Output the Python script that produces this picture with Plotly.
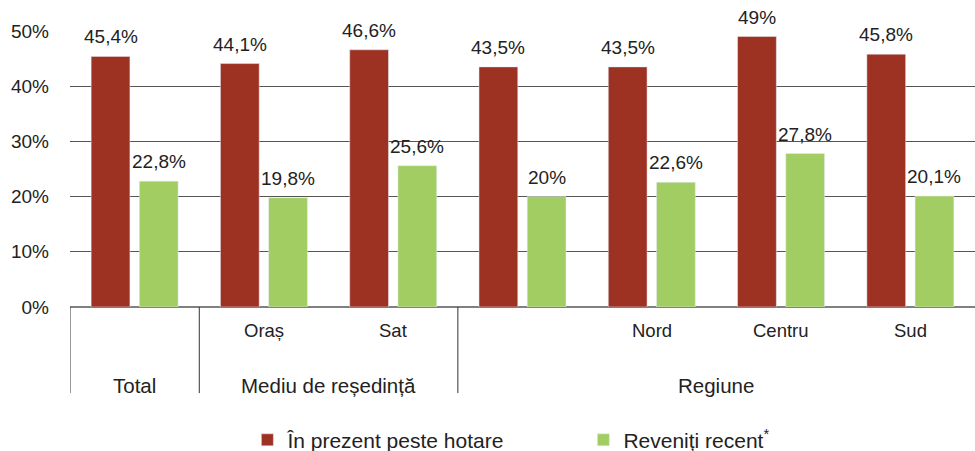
import plotly.graph_objects as go

# ---- data ----
groups = ["Total", "Mediu de reședință", "Regiune"]
group_spans = [(0, 0), (1, 2), (3, 6)]
categories = ["", "Oraș", "Sat", "", "Nord", "Centru", "Sud"]
abroad = [45.4, 44.1, 46.6, 43.5, 43.5, 49.0, 45.8]
returned = [22.8, 19.8, 25.6, 20.0, 22.6, 27.8, 20.1]
series_names = ["În prezent peste hotare", "Reveniți recent<sup>*</sup>"]
y_ticks = [0, 10, 20, 30, 40, 50]
y_tick_labels = [f"{t}%" for t in y_ticks]

RED = "#9d3122"
GREEN = "#a2cd62"
TXT = "#222222"
FONT = "Liberation Sans, Arial, Helvetica, sans-serif"

BARGAP = 0.254
BARGROUPGAP = 0.196

x = list(range(len(categories)))


def fmt(v):
    return f"{v:g}".replace(".", ",") + "%"


fig = go.Figure()
fig.add_bar(x=x, y=abroad, name=series_names[0], marker_color=RED)
fig.add_bar(x=x, y=returned, name=series_names[1], marker_color=GREEN)

annotations = []
off = (1 - BARGAP) / 4
for vals, sign in ((abroad, -1), (returned, 1)):
    for i, v in enumerate(vals):
        annotations.append(dict(
            x=i + sign * off, y=v, xref="x", yref="y", text=fmt(v),
            showarrow=False, yanchor="bottom", yshift=7,
            font=dict(size=19, color=TXT, family=FONT)))

# inner category labels
for i, c in enumerate(categories):
    if c:
        annotations.append(dict(
            x=i, y=0, xref="x", yref="paper", text=c, showarrow=False,
            yanchor="top", yshift=-11, font=dict(size=18.5, color=TXT, family=FONT)))

# outer group labels
for g, (a, b) in zip(groups, group_spans):
    annotations.append(dict(
        x=(a + b) / 2, y=0, xref="x", yref="paper", text=g, showarrow=False,
        yanchor="top", yshift=-65, font=dict(size=20.5, color=TXT, family=FONT)))

shapes = []
for a, b in group_spans:
    shapes.append(dict(type="line", xref="x", yref="paper",
                       x0=a - 0.5, x1=a - 0.5, y0=0, y1=-0.312,
                       line=dict(color="#333333", width=1)))

fig.update_layout(
    width=975, height=451,
    margin=dict(l=70, r=0, t=31, b=144, autoexpand=False),
    paper_bgcolor="white", plot_bgcolor="white",
    barmode="group", bargap=BARGAP, bargroupgap=BARGROUPGAP,
    font=dict(family=FONT, color=TXT, size=19),
    showlegend=True,
    legend=dict(orientation="h", x=0.196, xanchor="left",
                yref="container", y=0.024, yanchor="middle",
                font=dict(size=21, color=TXT, family=FONT),
                entrywidth=291, entrywidthmode="pixels",
                bgcolor="rgba(0,0,0,0)"),
    annotations=annotations,
    shapes=shapes,
)
fig.update_xaxes(range=[-0.5, len(categories) - 0.5], showticklabels=False,
                 showgrid=False, zeroline=False, showline=False, ticks="",
                 automargin=False)
fig.update_yaxes(range=[0, 50], tickmode="array", tickvals=y_ticks,
                 ticktext=y_tick_labels, automargin=False,
                 showgrid=True, gridcolor="#555555", gridwidth=1,
                 zeroline=True, zerolinecolor="#808080", zerolinewidth=2,
                 showline=False, ticks="", ticklabelstandoff=20,
                 tickfont=dict(size=19, color=TXT, family=FONT))

fig.write_html(
    "out.html",
    config={"displayModeBar": False},
    post_script="document.body.style.margin='0';document.body.style.padding='0';",
)
